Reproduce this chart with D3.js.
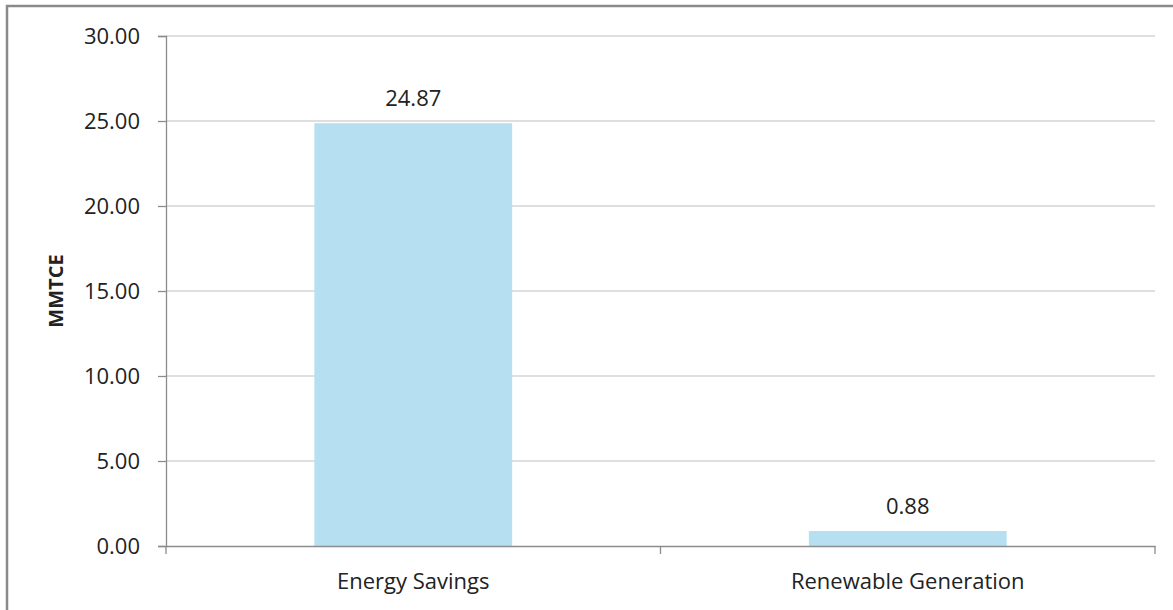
<!DOCTYPE html>
<html>
<head>
<meta charset="utf-8">
<script src="https://cdn.jsdelivr.net/npm/d3@7"></script>
<style>
  html, body { margin: 0; padding: 0; background: #fff; }
  svg { display: block; }
  text { font-family: "Open Sans", "Noto Sans", sans-serif; fill: #222; }
</style>
</head>
<body>
<svg id="chart" width="1173" height="610"></svg>
<script>
// Carbon reductions by source, million metric tons of carbon equivalent
const categories = ["Energy Savings", "Renewable Generation"];
const values = [24.87, 0.88];
const yTicks = [0, 5, 10, 15, 20, 25, 30];
const yTitle = "MMTCE";

const W = 1173, H = 610;
const margin = { left: 166, right: 18, top: 36, bottom: 64 };

const svg = d3.select("#chart");

// outer frame
svg.append("rect")
  .attr("x", 7).attr("y", 6)
  .attr("width", W).attr("height", H)
  .attr("fill", "none").attr("stroke", "#8a8a8a").attr("stroke-width", 2.5);

const x = d3.scaleBand()
  .domain(categories)
  .range([margin.left, W - margin.right])
  .paddingInner(0).paddingOuter(0);

const y = d3.scaleLinear()
  .domain([0, 30])
  .range([H - margin.bottom, margin.top]);

// horizontal gridlines
svg.append("g")
  .selectAll("line")
  .data(yTicks.filter(d => d > 0))
  .join("line")
  .attr("x1", margin.left).attr("x2", W - margin.right)
  .attr("y1", d => y(d)).attr("y2", d => y(d))
  .attr("stroke", "#d4d4d4").attr("stroke-width", 1.3);

// bars: width is band / 2.5 (gap 150%)
const barW = x.bandwidth() / 2.5;
svg.append("g")
  .selectAll("rect")
  .data(values)
  .join("rect")
  .attr("x", (d, i) => x(categories[i]) + (x.bandwidth() - barW) / 2)
  .attr("width", barW)
  .attr("y", d => y(d))
  .attr("height", d => y(0) - y(d))
  .attr("fill", "#b7dff2");

// value labels
svg.append("g")
  .selectAll("text")
  .data(values)
  .join("text")
  .attr("x", (d, i) => x(categories[i]) + x.bandwidth() / 2)
  .attr("y", d => y(d) - 17)
  .attr("text-anchor", "middle")
  .style("font-size", "22px")
  .text(d => d.toFixed(2));

// y axis
const yAxis = svg.append("g")
  .attr("transform", `translate(${margin.left},0)`)
  .call(d3.axisLeft(y).tickValues(yTicks).tickSize(8).tickPadding(18)
    .tickFormat(d => d.toFixed(2)));
yAxis.select(".domain").attr("stroke", "#8c8c8c").attr("stroke-width", 1.3);
yAxis.selectAll(".tick line").attr("stroke", "#8c8c8c").attr("stroke-width", 1.3);
yAxis.selectAll(".tick text")
  .style("font-size", "22px")
  .style("font-family", "'Open Sans', sans-serif")
  .attr("fill", "#222");

// x axis
const xAxis = svg.append("g")
  .attr("transform", `translate(0,${y(0)})`)
  .call(d3.axisBottom(x).tickSize(0).tickPadding(27));
xAxis.select(".domain").attr("stroke", "#8c8c8c").attr("stroke-width", 1.3);
xAxis.selectAll(".tick text")
  .style("font-size", "22px")
  .style("font-family", "'Open Sans', sans-serif")
  .attr("fill", "#222");

// category boundary ticks
const bounds = [x.range()[0], x(categories[1]), x.range()[1]];
svg.append("g")
  .selectAll("line")
  .data(bounds)
  .join("line")
  .attr("x1", d => d).attr("x2", d => d)
  .attr("y1", y(0)).attr("y2", y(0) + 8)
  .attr("stroke", "#8c8c8c").attr("stroke-width", 1.3);

// y title
svg.append("text")
  .attr("transform", `translate(63,${(y(0) + y(30)) / 2}) rotate(-90)`)
  .attr("text-anchor", "middle")
  .style("font-size", "20px")
  .style("font-weight", "bold")
  .text(yTitle);
</script>
</body>
</html>
